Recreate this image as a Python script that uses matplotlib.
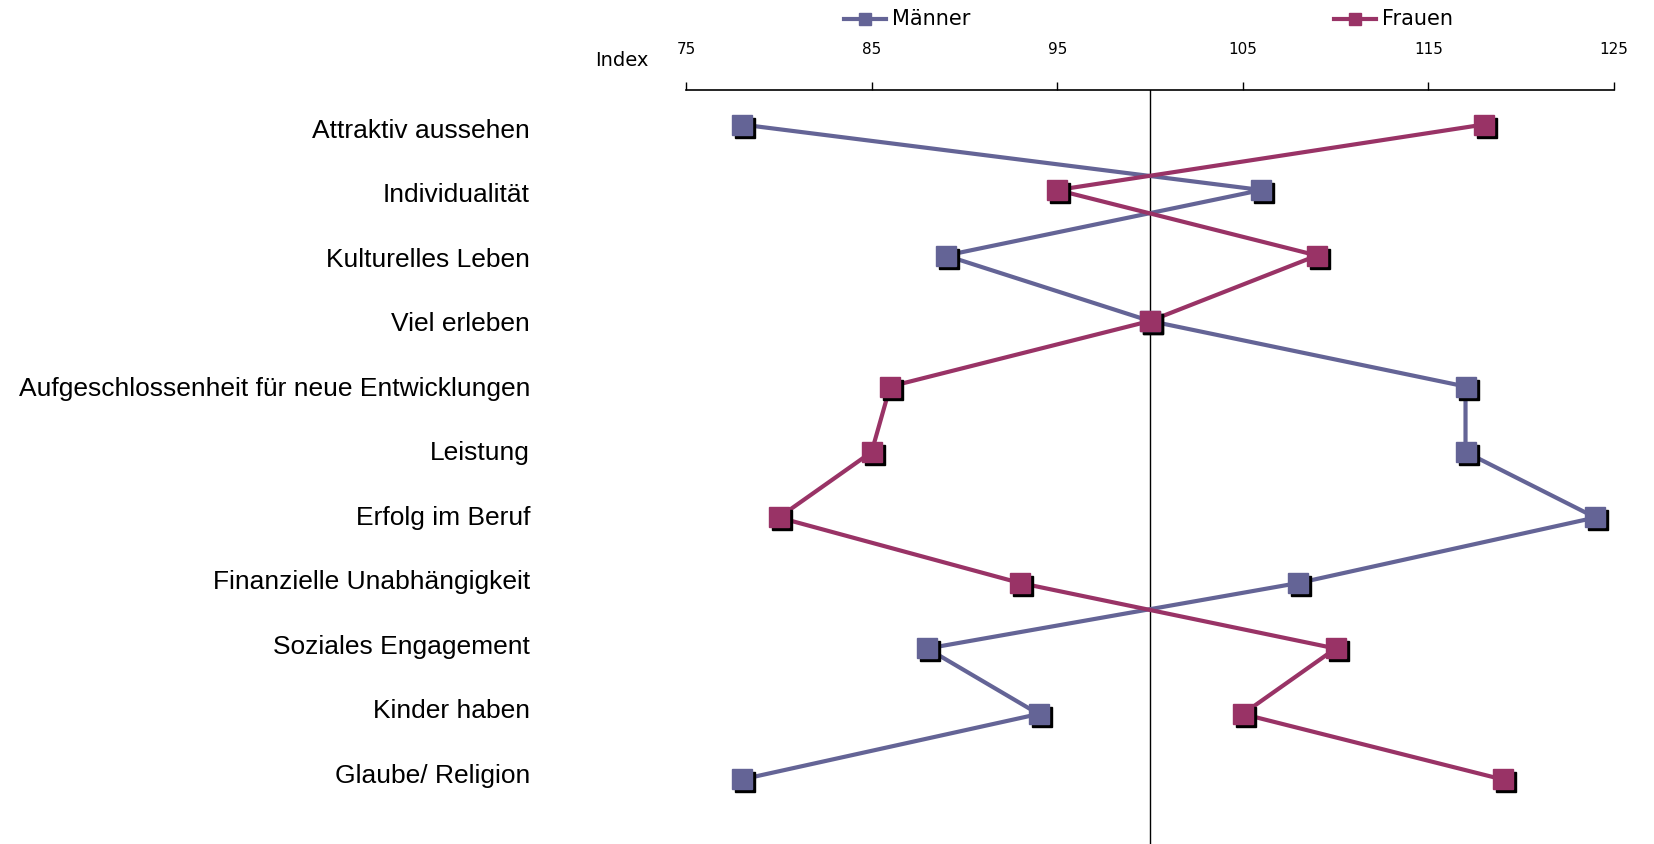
import matplotlib.pyplot as plt
import matplotlib.transforms as mtransforms
from matplotlib.lines import Line2D

categories = ["Attraktiv aussehen", "Individualität", "Kulturelles Leben", "Viel erleben",
              "Aufgeschlossenheit für neue Entwicklungen", "Leistung", "Erfolg im Beruf",
              "Finanzielle Unabhängigkeit", "Soziales Engagement", "Kinder haben",
              "Glaube/ Religion"]
maenner = [78, 106, 89, 100, 117, 117, 124, 108, 88, 94, 78]
frauen = [118, 95, 109, 100, 86, 85, 80, 93, 110, 105, 119]
xticks = [75, 85, 95, 105, 115, 125]

c_m = "#646496"
c_f = "#993366"
narrow = ["Liberation Sans Narrow", "DejaVu Sans"]

W, H = 1654, 844
fig = plt.figure(figsize=(W / 100, H / 100), dpi=100)
ax = fig.add_axes([686 / W, 0, 928 / W, 754 / H])

y = list(range(len(categories)))
shadow = ax.transData + mtransforms.ScaledTranslation(3 / 100, -3 / 100, fig.dpi_scale_trans)

for vals, col in [(maenner, c_m), (frauen, c_f)]:
    ax.plot(vals, y, color=col, lw=3, zorder=2, solid_capstyle="butt")
for vals, col in [(maenner, c_m), (frauen, c_f)]:
    ax.plot(vals, y, ls="none", marker="s", ms=15, color="black", transform=shadow, zorder=3)
    ax.plot(vals, y, ls="none", marker="s", ms=15, color=col, mec=col, zorder=4)

ax.axvline(100, color="black", lw=1, zorder=1)

ax.set_xlim(75, 125)
ax.set_ylim(10.985, -0.527)
ax.xaxis.tick_top()
ax.set_xticks(xticks)
ax.set_xticklabels([str(t) for t in xticks], family=narrow, fontsize=11)
ax.tick_params(axis="x", direction="out", length=6, width=1, pad=18)
ax.set_yticks([])
for s in ["left", "right", "bottom"]:
    ax.spines[s].set_visible(False)
ax.spines["top"].set_linewidth(1.2)

for i, cat in enumerate(categories):
    fig.text(530 / W, 1 - (131 + i * 64.45) / H, cat, ha="right", va="center",
             fontsize=19, family=["Liberation Sans", "DejaVu Sans"])

fig.text(622 / W, 1 - 60 / H, "Index", ha="center", va="center", fontsize=14, family=narrow)

# legend
for x0, col, lab in [(844, c_m, "Männer"), (1334, c_f, "Frauen")]:
    fig.add_artist(Line2D([x0 / W, (x0 + 42) / W], [1 - 19 / H, 1 - 19 / H], color=col, lw=3,
                          transform=fig.transFigure))
    fig.add_artist(Line2D([(x0 + 21) / W], [1 - 19 / H], marker="s", ms=9, color=col,
                          transform=fig.transFigure))
    fig.text((x0 + 48) / W, 1 - 19 / H, lab, ha="left", va="center", fontsize=15, family=narrow)

fig.savefig("out.png", dpi=100)
